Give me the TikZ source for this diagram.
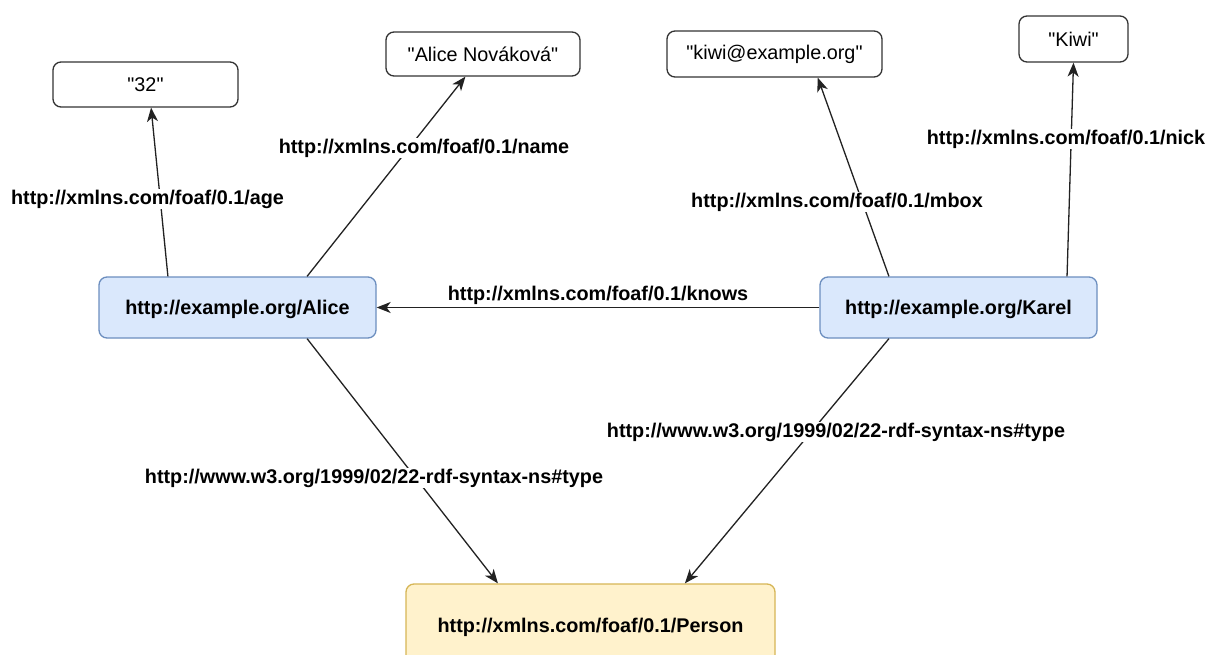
\documentclass[tikz,border=0pt]{standalone}
\usepackage{fontspec}
\setmainfont{Liberation Sans}[Ligatures=TeXOff]
\usetikzlibrary{arrows.meta,calc}
\definecolor{blueFill}{HTML}{DAE8FC}
\definecolor{blueLine}{HTML}{6C8EBF}
\definecolor{yelFill}{HTML}{FFF2CC}
\definecolor{yelLine}{HTML}{D6B656}
\definecolor{edgeCol}{HTML}{222222}
\tikzset{
  base/.style={rounded corners=8pt, line width=1.3pt, inner sep=0pt, align=center,
    font=\fontsize{19.8}{24}\selectfont},
  literal/.style={base, draw=black!80, fill=white},
  resource/.style={base, draw=blueLine, fill=blueFill, text depth=0pt, font=\fontsize{19.8}{24}\selectfont\bfseries},
  classbox/.style={base, draw=yelLine, fill=yelFill, text depth=0pt, font=\fontsize{19.8}{24}\selectfont\bfseries},
  edge/.style={draw=edgeCol, line width=1.3pt, -{Stealth[length=14pt,width=11pt,inset=4pt]}},
  lbl/.style={fill=white, inner sep=1pt, font=\fontsize{19.8}{24}\selectfont\bfseries}
}
\begin{document}
\begin{tikzpicture}[x=1pt,y=-1pt]
\useasboundingbox (0,0) rectangle (1207,655);
\clip (0,0) rectangle (1207,655);
\fill[white] (0,0) rectangle (1207,655);
% nodes
\node[literal, minimum width=185pt, minimum height=45pt] (age) at (145.5,84.5) {"32"};
\node[literal, minimum width=194pt, minimum height=44pt] (name) at (483,54) {"Alice Nováková"};
\node[literal, minimum width=215pt, minimum height=46pt] (mbox) at (774.5,54) {"kiwi@example.org"};
\node[literal, minimum width=109pt, minimum height=46pt] (nick) at (1073.5,39) {"Kiwi"};
\node[resource, minimum width=277pt, minimum height=61pt] (alice) at (237.5,307.5) {http://example.org/Alice};
\node[resource, minimum width=277pt, minimum height=61pt] (karel) at (958.5,307.5) {http://example.org/Karel};
\node[classbox, minimum width=369pt, minimum height=82pt] (person) at (590.5,625) {http://xmlns.com/foaf/0.1/Person};
% anchor points
\coordinate (aT1) at ($(alice.north west)!0.25!(alice.north east)$);
\coordinate (aT2) at ($(alice.north west)!0.75!(alice.north east)$);
\coordinate (aB2) at ($(alice.south west)!0.75!(alice.south east)$);
\coordinate (kT1) at ($(karel.north west)!0.25!(karel.north east)$);
\coordinate (kT2) at ($(karel.north west)!0.89!(karel.north east)$);
\coordinate (kB1) at ($(karel.south west)!0.25!(karel.south east)$);
\coordinate (pT1) at ($(person.north west)!0.25!(person.north east)$);
\coordinate (pT2) at ($(person.north west)!0.755!(person.north east)$);
\coordinate (ageB) at ($(age.south west)!0.53!(age.south east)$);
\coordinate (nameB) at ($(name.south west)!0.41!(name.south east)$);
\coordinate (mboxB) at ($(mbox.south west)!0.70!(mbox.south east)$);
\coordinate (nickB) at ($(nick.south west)!0.5!(nick.south east)$);
% edges
\draw[edge] (aT1) -- (ageB);
\draw[edge] (aT2) -- (nameB);
\draw[edge] (kT1) -- (mboxB);
\draw[edge] (kT2) -- (nickB);
\draw[edge] (karel.west) -- (alice.east);
\draw[edge] (aB2) -- (pT1);
\draw[edge] (kB1) -- (pT2);
% labels
\node[lbl] (lage) at (147.5,199) {http://xmlns.com/foaf/0.1/age};
\node[lbl] (lname) at (424,148) {http://xmlns.com/foaf/0.1/name};
\node[lbl] (lmbox) at (837,202) {http://xmlns.com/foaf/0.1/mbox};
\node[lbl] (lnick) at (1066,139) {http://xmlns.com/foaf/0.1/nick};
\node[lbl] (lknows) at (598,295) {http://xmlns.com/foaf/0.1/knows};
\node[lbl] (ltypeA) at (374,478) {http://www.w3.org/1999/02/22-rdf-syntax-ns\#type};
\node[lbl] (ltypeK) at (836,432) {http://www.w3.org/1999/02/22-rdf-syntax-ns\#type};
\end{tikzpicture}
\end{document}
